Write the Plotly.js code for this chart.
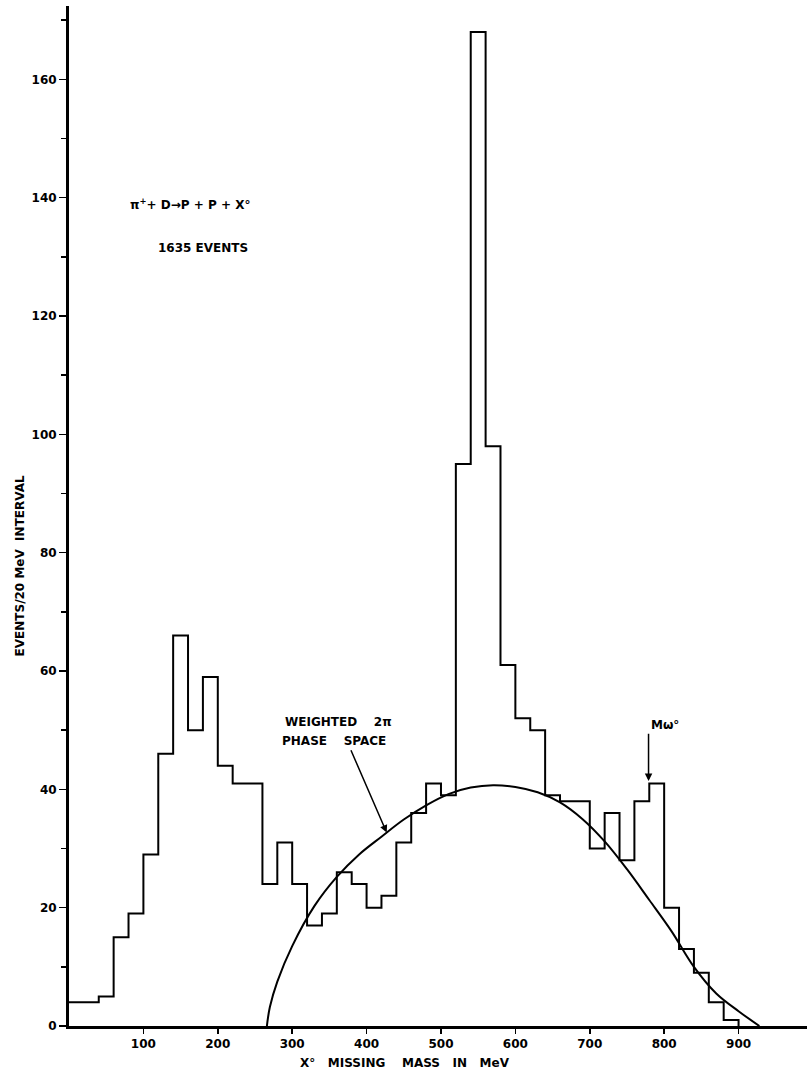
<!DOCTYPE html>
<html>
<head>
<meta charset="utf-8">
<script src="https://cdn.plot.ly/plotly-3.0.1.min.js"></script>
<style>
  html, body { margin: 0; padding: 0; background: #fff; }
  #chart { width: 807px; height: 1071px; }
</style>
</head>
<body>
<div id="chart"></div>
<script>
// 20 MeV bins, left edges in MeV
const binLeft = [0, 20, 40, 60, 80, 100, 120, 140, 160, 180,
                 200, 220, 240, 260, 280, 300, 320, 340, 360, 380,
                 400, 420, 440, 460, 480, 500, 520, 540, 560, 580,
                 600, 620, 640, 660, 680, 700, 720, 740, 760, 780,
                 800, 820, 840, 860, 880];
const counts = [4, 4, 5, 15, 19, 29, 46, 66, 50, 59,
                44, 41, 41, 24, 31, 24, 17, 19, 26, 24,
                20, 22, 31, 36, 41, 39, 95, 168, 98, 61,
                52, 50, 39, 38, 38, 30, 36, 28, 38, 41,
                20, 13, 9, 4, 1];
const binWidth = 20;

// weighted 2 pi phase space curve
const psMass = [266, 270, 280, 300, 330, 360, 390, 420, 450, 480, 510, 540, 570,
                600, 630, 660, 690, 720, 750, 780, 810, 840, 870, 900, 928];
const psEvents = [0, 3.2, 7.5, 13.5, 20.3, 25.2, 29.0, 32.0, 34.9, 37.3, 39.2, 40.3, 40.7,
                  40.4, 39.5, 37.8, 35.0, 31.2, 26.5, 21.3, 16.0, 10.0, 5.5, 2.5, 0];

const xTicks = [100, 200, 300, 400, 500, 600, 700, 800, 900];

// step outline of the histogram
const stepX = binLeft.concat([binLeft[binLeft.length - 1] + binWidth]);
const stepY = counts.concat([counts[counts.length - 1]]);
stepX.push(stepX[stepX.length - 1]);
stepY.push(0);

const lbl = {family: 'DejaVu Sans', size: 12, color: '#000', weight: 'bold'};
const sp = n => '\u00a0'.repeat(n);

var data = [
  {
    x: stepX, y: stepY,
    type: 'scatter', mode: 'lines',
    line: {shape: 'hv', color: '#000', width: 2},
    hoverinfo: 'skip'
  },
  {
    x: psMass, y: psEvents,
    type: 'scatter', mode: 'lines',
    line: {shape: 'spline', smoothing: 1, color: '#000', width: 2},
    hoverinfo: 'skip'
  }
];

var layout = {
  width: 807, height: 1071,
  paper_bgcolor: '#fff', plot_bgcolor: '#fff',
  showlegend: false,
  margin: {l: 69, r: 0, t: 6, b: 45},
  xaxis: {
    range: [0, 992],
    showline: true, linewidth: 3, linecolor: '#000',
    showgrid: false, zeroline: false,
    tickvals: xTicks,
    ticks: 'outside', ticklen: 5, tickwidth: 1.5, tickcolor: '#000',
    tickfont: lbl
  },
  yaxis: {
    range: [0, 172.4],
    showline: true, linewidth: 3, linecolor: '#000',
    showgrid: false, zeroline: false,
    tick0: 0, dtick: 20,
    ticks: 'outside', ticklen: 7, tickwidth: 1.5, tickcolor: '#000',
    minor: {dtick: 10, ticks: 'outside', ticklen: 5, tickwidth: 1.5, tickcolor: '#000'},
    tickfont: lbl
  },
  annotations: [
    {xref: 'paper', yref: 'paper', x: -0.078, y: 0.451,
     text: 'EVENTS/20 MeV  INTERVAL', textangle: -90, showarrow: false,
     font: lbl},
    {xref: 'x', yref: 'paper', x: 452, y: -0.027, yanchor: 'top',
     text: 'X°' + sp(3) + 'MISSING' + sp(4) + 'MASS' + sp(3) + 'IN' + sp(3) + 'MeV',
     showarrow: false, font: lbl},
    {xref: 'x', yref: 'y', x: 163, y: 139,
     text: 'π<sup>+</sup>+ D→P + P + X°', showarrow: false, font: lbl},
    {xref: 'x', yref: 'y', x: 180, y: 131.5,
     text: '1635 EVENTS', showarrow: false, font: lbl},
    {xref: 'x', yref: 'y', x: 288, y: 51.3, xanchor: 'left',
     text: 'WEIGHTED' + sp(4) + '2π', showarrow: false, font: lbl},
    // arrow to the phase space curve, tail under "SPACE"
    {xref: 'x', yref: 'y', x: 427, y: 32.7, axref: 'x', ayref: 'y', ax: 379, ay: 46.6,
     xanchor: 'center', yanchor: 'bottom',
     text: 'PHASE' + sp(4) + 'SPACE' + sp(8), font: lbl,
     showarrow: true, arrowhead: 2, arrowsize: 1, arrowwidth: 1.5, arrowcolor: '#000'},
    // omega mass marker
    {xref: 'x', yref: 'y', x: 779, y: 41.4, axref: 'x', ayref: 'y', ax: 779, ay: 49.4,
     xanchor: 'left', yanchor: 'bottom',
     text: 'Mω°', font: lbl,
     showarrow: true, arrowhead: 2, arrowsize: 1, arrowwidth: 1.5, arrowcolor: '#000'}
  ]
};

Plotly.newPlot(document.getElementById('chart'), data, layout, {staticPlot: true});
</script>
</body>
</html>
